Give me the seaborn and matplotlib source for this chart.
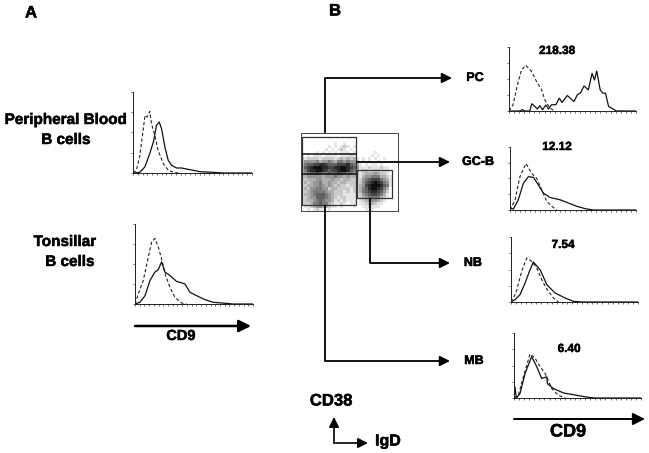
import matplotlib
matplotlib.use("Agg")
import matplotlib.pyplot as plt
import matplotlib.patheffects as pe
import numpy as np
import seaborn as sns
from matplotlib.patches import Rectangle

W, H = 649, 453

# histogrammes : canal CD9 (0-100) / effectif relatif (0-100)
pb_iso_x = [0, 2.8, 5.6, 8.5, 10.1, 11.8, 14.1, 15.5, 18.3, 21.1, 25.4, 29.6, 35.2, 39.4]
pb_iso_y = [0, 3.3, 19.8, 52.7, 71.2, 69.1, 76.1, 61.0, 46.9, 28.0, 11.5, 3.3, 0.4, 0]
pb_cd9_x = [0, 5.6, 9.9, 14.1, 17.5, 19.7, 22, 24, 26.8, 29.6, 32.4, 36.6, 40.8, 45.1, 50.7, 56.3, 67.6, 76, 100]
pb_cd9_y = [0, 0.8, 7.4, 23.9, 40.3, 58.8, 62.9, 54.7, 32.1, 15.6, 9.5, 6.2, 6.2, 4.9, 3.3, 1.6, 0.8, 0, 0]

ton_iso_x = [0, 2.8, 7, 11.3, 14.1, 16.9, 19.7, 22.5, 25.9, 29.6, 33.8, 39.4, 43.7]
ton_iso_y = [0, 12.6, 29.4, 58.8, 77.7, 81.9, 71.4, 56.7, 35.7, 21, 8.4, 1.3, 0]
ton_cd9_x = [0, 4.2, 8.5, 12.7, 16.9, 19.7, 22.5, 25.4, 29.6, 35.2, 42.3, 46.5, 52.1, 59.2, 66.2, 77.5, 83.1, 100]
ton_cd9_y = [0, 2.1, 10.5, 29.4, 39.9, 42.9, 52.5, 39.9, 35.7, 28.2, 25.2, 14.7, 10.5, 5.5, 2.1, 0.8, 0, 0]

pc_iso_x = [0, 3.2, 6.3, 9.8, 13.2, 17.7, 21.6, 25.6, 28.2, 32.2, 36.1]
pc_iso_y = [0, 9.8, 38.1, 63.9, 71.6, 61.9, 46.4, 33.5, 17.5, 4.6, 0]
pc_cd9_x = [0, 8.4, 10.6, 12.4, 16.4, 17.9, 20.3, 22.2, 24.3, 26.4, 29, 31.1, 33.5, 36.9, 39.6, 41.7, 45.9,
            48.8, 51.2, 53.8, 56.5, 59.1, 62.5, 65.4, 67.3, 69.1, 71.8, 73.9, 76, 78.4, 82.8, 84.4, 100]
pc_cd9_y = [0, 0, 2.1, 0, 0, 11.3, 7.2, 3.1, 8.2, 2.1, 9.3, 3.1, 9.8, 9.8, 20.1, 13.4, 24.2,
            19, 14.9, 25.3, 28.9, 39.2, 33, 58.8, 48.5, 62.4, 33, 27.8, 27.8, 7.2, 2.1, 0, 0]

gc_iso_x = [0, 4, 7.9, 12.7, 17.2, 21.2, 25.2, 29.2, 33.2, 37.1]
gc_iso_y = [0, 16.2, 52.9, 73.8, 58.1, 50.3, 31.9, 13.6, 5.8, 0]
gc_cd9_x = [0, 2.7, 6.6, 10.6, 14.6, 18.6, 22.5, 26.5, 31.8, 39.8, 46.4, 53.1, 59.7, 66.3, 100]
gc_cd9_y = [3.1, 1.6, 16.2, 42.4, 52.9, 51.8, 39.8, 26.7, 19.9, 16.2, 11, 5.8, 2.1, 0, 0]

nb_iso_x = [0, 3.9, 8.4, 12.4, 16.3, 20.3, 24.2, 28.2, 33.4, 37.4]
nb_iso_y = [0, 13.8, 47.2, 67.7, 62.6, 52.3, 34.4, 20, 6.2, 0]
nb_cd9_x = [0, 3.2, 7.1, 11.1, 14.5, 17.6, 22.9, 28.2, 34.7, 42.6, 49.2, 55.8, 100]
nb_cd9_y = [0, 3.6, 11.3, 29.2, 47.2, 61.5, 49.7, 26.7, 13.8, 6.2, 1, 0, 0]

mb_iso_x = [0, 3.4, 7.4, 12.6, 16.6, 20.5, 24.5, 29.7, 35, 40.3]
mb_iso_y = [0, 4.1, 32.6, 67.9, 61.2, 48.2, 37.8, 14.5, 4.1, 0]
mb_cd9_x = [0, 0.8, 1.8, 4.7, 8.7, 13.9, 17.9, 21.8, 25.8, 26.3, 31.1, 38.9, 49.5, 60, 65.3, 100]
mb_cd9_y = [0, 17.1, 0, 6.7, 37.8, 63.7, 48.2, 30, 32.6, 22.2, 14.5, 7.8, 4.1, 0.5, 0, 0]

# densite du nuage CD38 / IgD, estimee case par case (0 = vide, 9 = tres dense)
dot_rows = [
    "00000000 00000000 00000000 00000000",
    "00000000 00000000 00000000 00000000",
    "00000000 00000000 00000000 00000000",
    "00000000 00010010 00000000 00000000",
    "00000000 01010121 01000000 00000000",
    "00000000 10101210 10000000 00000000",
    "00000101 01010111 01000000 10000000",
    "10101110 11110111 21000001 01000000",
    "21222212 22212323 23101010 10010000",
    "24444534 45435545 44201010 01000000",
    "35667788 76667778 65310101 10100000",
    "36789998 87788998 76411121 11211000",
    "35788998 76778998 65312212 22111000",
    "24566765 56567665 54212333 43221000",
    "23444443 44454434 33213445 55332100",
    "22333443 33433233 22124567 77543100",
    "13234453 34332332 22124678 98754100",
    "12334454 34323221 22134789 99865100",
    "13244554 42332222 12135689 98753000",
    "12345555 43322212 12135678 87642000",
    "13345666 54322211 11124567 76531000",
    "12344666 54321221 11123455 55321000",
    "12334565 44312121 11012344 43210000",
    "12235565 53211210 11011233 21100000",
    "01123443 32110100 01001121 11000000",
    "00101211 01000000 00000101 00000000",
]

population_labels = ["PC", "GC-B", "NB", "MB"]
mfi_labels = ["218.38", "12.12", "7.54", "6.40"]

sns.set_theme(style="white")
plt.rcParams["font.family"] = ["Liberation Sans", "DejaVu Sans"]
plt.rcParams["font.weight"] = "bold"

fig = plt.figure(figsize=(W / 100, H / 100), dpi=100)


def box(left, top, right, bottom):
    """Rectangle en pixels de l'image -> rectangle pour add_axes."""
    return [left / W, 1 - bottom / H, (right - left) / W, (bottom - top) / H]


def histo(rect, iso_x, iso_y, cd9_x, cd9_y):
    """Un histogramme : isotype en pointille, CD9 en trait plein."""
    ax = fig.add_axes(box(*rect))
    sns.lineplot(x=iso_x, y=iso_y, ax=ax, color="#222222", lw=0.8, ls=(0, (3, 2)),
                 estimator=None, sort=False)
    sns.lineplot(x=cd9_x, y=cd9_y, ax=ax, color="#111111", lw=0.9,
                 estimator=None, sort=False)
    ax.set_xlim(0, 100)
    ax.set_ylim(0, 100)
    ax.set_xticks(np.arange(0, 101, 4))
    ax.set_yticks([0, 25, 50, 75, 100])
    ax.set_xticklabels([])
    ax.set_yticklabels([])
    ax.tick_params(left=True, bottom=True, length=1.5, width=0.5, color="#333333", pad=0)
    sns.despine(ax=ax)
    for side in ["left", "bottom"]:
        ax.spines[side].set_linewidth(0.7)
        ax.spines[side].set_color("#222222")
    ax.patch.set_alpha(0)
    return ax


# ---------------------------
# Histogrammes
# ---------------------------
histo((133, 92, 252, 173), pb_iso_x, pb_iso_y, pb_cd9_x, pb_cd9_y)
histo((135, 224, 253, 304), ton_iso_x, ton_iso_y, ton_cd9_x, ton_cd9_y)
histo((509, 47, 636, 111), pc_iso_x, pc_iso_y, pc_cd9_x, pc_cd9_y)
histo((510, 147, 636, 210), gc_iso_x, gc_iso_y, gc_cd9_x, gc_cd9_y)
histo((511, 237, 638, 302), nb_iso_x, nb_iso_y, nb_cd9_x, nb_cd9_y)
histo((514, 333, 641, 398), mb_iso_x, mb_iso_y, mb_cd9_x, mb_cd9_y)

# ---------------------------
# Nuage de points (densite)
# ---------------------------
dot_density = np.array([[int(c) for c in row.replace(" ", "")] for row in dot_rows])
ax_dot = fig.add_axes(box(301, 133, 398, 211))
sns.heatmap(dot_density, ax=ax_dot, cmap=sns.blend_palette(["white", "#111111"], as_cmap=True),
            vmin=0, vmax=9, cbar=False, xticklabels=False, yticklabels=False)
for spine in ax_dot.spines.values():
    spine.set_visible(True)
    spine.set_linewidth(0.7)
    spine.set_color("#444444")

# ---------------------------
# Couche d'annotations, en pixels
# ---------------------------
ov = fig.add_axes([0, 0, 1, 1])
ov.set_xlim(0, W)
ov.set_ylim(H, 0)
ov.axis("off")
ov.patch.set_alpha(0)

# fenetres de selection
for x0, y0, x1, y1 in [(302, 137, 356, 205), (357, 170, 392, 198)]:
    ov.add_patch(Rectangle((x0, y0), x1 - x0, y1 - y0, fill=False, ec="#333333", lw=0.9))
ov.plot([302, 356], [154, 154], color="#111111", lw=1.1)
ov.plot([302, 356], [174, 174], color="#111111", lw=1.1)


def fleche(points, lw=1.3, head=5):
    """Trait brise termine par une fleche."""
    xs, ys = zip(*points)
    ov.plot(xs[:-1], ys[:-1], color="black", lw=lw, solid_capstyle="butt")
    ov.annotate("", xy=points[-1], xytext=points[-2],
                arrowprops=dict(arrowstyle=f"-|>,head_width={head / 20},head_length={head / 10}",
                                color="black", lw=lw, shrinkA=0, shrinkB=0))


def texte(x, y, txt, size):
    """Texte gras, legerement epaissi comme sur le scan."""
    ov.text(x, y, txt, fontsize=size, ha="center", va="center", color="black",
            path_effects=[pe.withStroke(linewidth=0.35, foreground="black")])


fleche([(325, 133), (325, 78), (452, 78)])
fleche([(357, 162), (450, 162)])
fleche([(370, 198), (370, 263), (450, 263)])
fleche([(325, 205), (325, 361), (450, 361)])
fleche([(135, 326), (251, 326)], lw=1.8, head=6)
fleche([(514, 419), (645, 419)], lw=1.4, head=6)
fleche([(334, 443), (334, 417)], lw=1.2)
fleche([(334, 443), (368, 443)], lw=1.2)

# textes
texte(31, 13, "A", 12)
texte(335, 11, "B", 12)
for txt, x, y in [("Peripheral Blood", 66, 120), ("B cells", 66, 140),
                  ("Tonsillar", 65, 242), ("B cells", 70, 262)]:
    texte(x, y, txt, 11)
texte(181, 336, "CD9", 10.5)
texte(568, 432, "CD9", 13)
texte(331, 401, "CD38", 12)
texte(388, 441, "IgD", 11.5)

for txt, x, y in zip(population_labels, [475, 478, 473, 474], [78, 162, 263, 361]):
    texte(x, y, txt, 9)
for txt, x, y in zip(mfi_labels, [557, 557, 563, 569], [51, 147, 245, 349]):
    texte(x, y, txt, 8.5)

fig.savefig("out.png", dpi=100)
